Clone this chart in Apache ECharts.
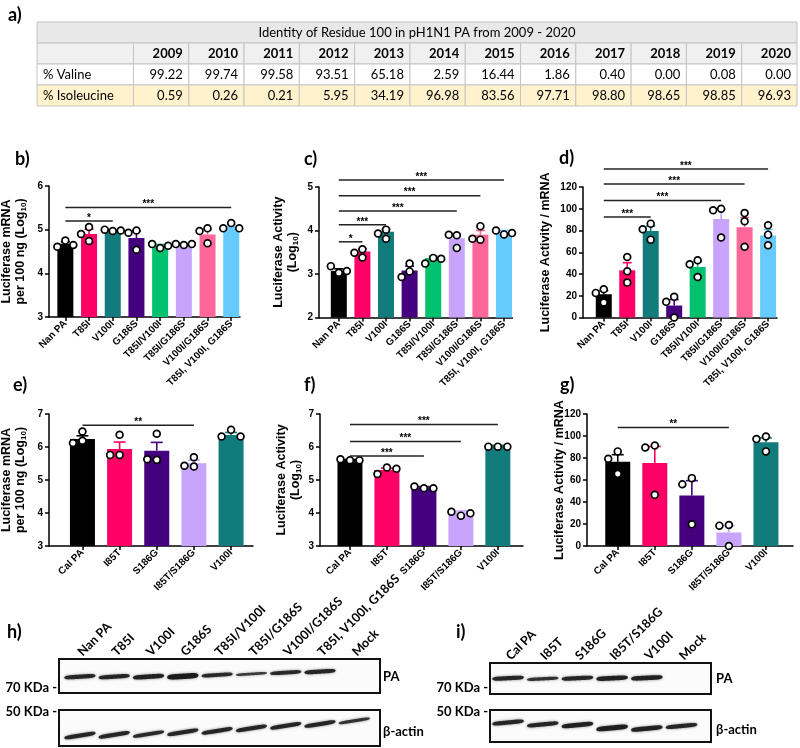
<!DOCTYPE html>
<html><head><meta charset="utf-8">
<script src="https://cdn.jsdelivr.net/npm/echarts@6/dist/echarts.min.js"></script>
<style>html,body{margin:0;padding:0;background:#fff}#c{width:800px;height:748px}</style>
</head><body><div id="c"></div>
<script>
// ---------- DATA ----------
const tableTitle = 'Identity of Residue 100 in pH1N1 PA from 2009 - 2020';
const years = ['2009','2010','2011','2012','2013','2014','2015','2016','2017','2018','2019','2020'];
const rowLabels = ['% Valine', '% Isoleucine'];
const valine = [99.22, 99.74, 99.58, 93.51, 65.18, 2.59, 16.44, 1.86, 0.40, 0.00, 0.08, 0.00];
const isoleucine = [0.59, 0.26, 0.21, 5.95, 34.19, 96.98, 83.56, 97.71, 98.80, 98.65, 98.85, 96.93];

const nanCats = ['Nan PA','T85I','V100I','G186S','T85I/V100I','T85I/G186S','V100I/G186S','T85I, V100I, G186S'];
const calCats = ['Cal PA','I85T','S186G','I85T/S186G','V100I'];
const nanColors = ['#000000','#ff0066','#127c7c','#44007e','#00c16e','#c8a4fc','#ff6699','#66ccff'];
const calColors = ['#000000','#ff0066','#44007e','#c8a4fc','#127c7c'];

// b) Luciferase mRNA (log10)
const bMean = [4.68, 4.90, 4.97, 4.81, 4.63, 4.66, 4.89, 5.08];
const bSem  = [0.04, 0.11, 0.02, 0.16, 0.03, 0.01, 0.11, 0.03];
const bPts  = [[4.75,4.61,4.65],[5.06,4.90,4.74],[4.97,5.00,4.98],[4.98,4.93,4.54],[4.58,4.67,4.63],[4.65,4.67,4.67],[5.03,4.97,4.69],[5.15,5.03,5.03]];
const bSig  = [[2, 5.20, '*'], [7, 5.51, '***']];
// c) Luciferase activity (log10)
const cMean = [3.07, 3.52, 3.97, 3.08, 3.37, 3.82, 3.90, 3.97];
const cSem  = [0.05, 0.06, 0.06, 0.10, 0.04, 0.10, 0.10, 0.03];
const cPts  = [[3.03,3.18,3.07],[3.57,3.38,3.49],[4.02,3.81,3.93],[3.24,3.06,2.93],[3.37,3.24,3.35],[3.89,3.60,3.90],[4.10,3.79,3.81],[3.91,4.00,3.94]];
const cSig  = [[1, 3.74, '*'], [2, 4.13, '***'], [5, 4.45, '***'], [6, 4.80, '***'], [7, 5.16, '***']];
// d) Luciferase activity / mRNA
const dMean = [21.4, 43.4, 79.5, 11.0, 46.5, 90.6, 83.0, 75.5];
const dSem  = [3.3, 7.0, 4.5, 5.5, 4.8, 9.0, 9.0, 5.3];
const dPts  = [[26.0,22.6,13.8],[55.7,42.5,32.1],[86.3,81.1,71.6],[19.0,14.4,0.0],[52.6,49.0,37.3],[100.0,98.6,73.5],[96.0,88.5,65.0],[84.8,76.2,66.4]];
const dSig  = [[2, 92.4, '***'], [5, 107.7, '***'], [6, 122.7, '***'], [7, 136.5, '***']];
// e) Luciferase mRNA (log10)
const eMean = [6.24, 5.94, 5.89, 5.51, 6.36];
const eSem  = [0.10, 0.21, 0.25, 0.09, 0.08];
const ePts  = [[6.47,6.19,6.12],[6.37,5.76,5.76],[6.40,5.61,5.63],[5.69,5.41,5.43],[6.52,6.32,6.32]];
const eSig  = [[3, 6.66, '**']];
// f) Luciferase activity (log10)
const fMean = [5.61, 5.30, 4.78, 4.02, 6.04];
const fSem  = [0.01, 0.06, 0.02, 0.04, 0.01];
const fPts  = [[5.60,5.63,5.60],[5.38,5.18,5.34],[4.75,4.80,4.75],[3.92,4.04,3.99],[6.01,6.01,6.01]];
const fSig  = [[2, 5.73, '***'], [3, 6.17, '***'], [4, 6.68, '***']];
// g) Luciferase activity / mRNA
const gMean = [76.5, 75.5, 45.9, 12.3, 94.3];
const gSem  = [6.5, 15.0, 13.5, 6.3, 4.0];
const gPts  = [[86.0,79.3,65.6],[91.4,89.6,46.5],[61.7,56.2,19.7],[19.1,18.5,0.0],[99.6,97.2,86.0]];
const gSig  = [[3, 107.8, '**']];

// h) / i) western blots: relative migration (0 = top of membrane) and band intensity
const hLanes = ['Nan PA','T85I','V100I','G186S','T85I/V100I','T85I/G186S','V100I/G186S','T85I, V100I, G186S','Mock'];
const hPaMig = [0.52,0.52,0.52,0.51,0.47,0.44,0.40,0.37,0.40];
const hPaInt = [0.85,0.85,0.90,1.00,0.80,0.62,0.80,0.85,0.00];
const hActMig = [0.71,0.69,0.67,0.62,0.58,0.51,0.44,0.39,0.30];
const hActInt = [0.85,0.85,0.80,0.85,0.85,0.85,0.85,0.85,0.70];
const iLanes = ['Cal PA','I85T','S186G','I85T/S186G','V100I','Mock'];
const iPaMig = [0.49,0.51,0.49,0.49,0.48,0.49];
const iPaInt = [0.85,0.72,0.85,0.90,0.90,0.00];
const iActMig = [0.39,0.45,0.47,0.56,0.58,0.50];
const iActInt = [0.85,0.85,0.90,0.95,0.90,0.85];

// ---------- BUILD ----------
const FONT = '"Liberation Sans", Arial, sans-serif';
const CFONT = 'Lato, "Open Sans", sans-serif';
const grid = [], xAxis = [], yAxis = [], series = [], graphic = [];

// table (a)
(function(){
  const LABW = 1.745;
  const cells = [];
  cells.push({x0:0, x1:LABW + years.length, r:0, text:tableTitle, align:'center', bold:false, bg:'#e8e8e8'});
  cells.push({x0:0, x1:LABW, r:1, text:'', align:'left', bg:'#f0f0f0'});
  years.forEach((y,i)=>cells.push({x0:LABW+i, x1:LABW+i+1, r:1, text:y, align:'right', bold:true, bg:'#f0f0f0'}));
  [[rowLabels[0], valine, '#ffffff'], [rowLabels[1], isoleucine, '#fff2cc']].forEach(([lab, arr, bg], k)=>{
    cells.push({x0:0, x1:LABW, r:2+k, text:lab, align:'left', bg});
    arr.forEach((v,i)=>cells.push({x0:LABW+i, x1:LABW+i+1, r:2+k, text:v.toFixed(2), align:'right', bg}));
  });
  const gi = grid.length;
  grid.push({left:37, top:22, width:760, height:84, outerBoundsMode:'none'});
  xAxis.push({gridIndex:gi, type:'value', min:0, max:LABW + years.length, show:false});
  yAxis.push({gridIndex:gi, type:'value', min:0, max:4, inverse:true, show:false});
  series.push({type:'custom', xAxisIndex:gi, yAxisIndex:gi, clip:false, silent:true,
    data: cells.map(c=>[c.x0, c.r, c.x1]),
    renderItem(params, api){
      const c = cells[params.dataIndex];
      const p0 = api.coord([c.x0, c.r]), p1 = api.coord([c.x1, c.r+1]);
      const tx = c.align==='left' ? p0[0]+6 : c.align==='right' ? p1[0]-6 : (p0[0]+p1[0])/2;
      return {type:'group', children:[
        {type:'rect', shape:{x:p0[0], y:p0[1], width:p1[0]-p0[0], height:p1[1]-p0[1]}, style:{fill:c.bg, stroke:'#c4c4c4', lineWidth:1}},
        {type:'text', x:tx, y:(p0[1]+p1[1])/2+0.5, style:{text:c.text, fill:'#000', font:(c.bold?'bold ':'')+'13px '+CFONT, textAlign:c.align, textVerticalAlign:'middle'}}
      ]};
    }});
})();

function addBarPanel(o){
  const gi = grid.length;
  const [L,T,W,H] = o.box;
  const idx = o.cats.map((_,i)=>i);
  grid.push({left:L, top:T, width:W, height:H, outerBoundsMode:'none'});
  const axisLine = {show:true, onZero:false, lineStyle:{color:'#000', width:1.5}};
  const tick = {show:true, length:4, inside:false, lineStyle:{color:'#000', width:1.5}};
  xAxis.push({gridIndex:gi, type:'value', min:o.xr[0], max:o.xr[1], axisLine, splitLine:{show:false},
    axisTick:Object.assign({}, tick, {customValues:idx}),
    axisLabel:{customValues:idx, formatter:v=>o.cats[Math.round(v)]||'', rotate:45, margin:5, color:'#000', fontFamily:FONT, fontWeight:'bold', fontSize:10}});
  yAxis.push({gridIndex:gi, type:'value', min:o.yr[0], max:o.yr[1], interval:o.yr[2], axisLine, axisTick:tick, splitLine:{show:false},
    axisLabel:{color:'#000', fontFamily:FONT, fontWeight:'bold', fontSize:10, margin:6},
    name:o.name, nameLocation:'middle', nameGap:o.nameGap, nameMoveOverlap:false,
    nameTextStyle:{color:'#000', fontFamily:FONT, fontWeight:'bold', fontSize:12.5, lineHeight:14,
      rich:{sub:{fontSize:8, lineHeight:8, fontFamily:FONT, fontWeight:'bold', verticalAlign:'bottom', color:'#000'}}}});
  // bars
  series.push({type:'bar', xAxisIndex:gi, yAxisIndex:gi, barWidth:o.barW, silent:true, z:2,
    data:o.mean.map((v,i)=>({value:[i,v], itemStyle:{color:o.colors[i]}}))});
  // SEM error bars (upper only)
  series.push({type:'custom', xAxisIndex:gi, yAxisIndex:gi, silent:true, z:3, clip:false,
    data:o.mean.map((m,i)=>[i, m, m + o.sem[i]]),
    renderItem(params, api){
      const i = api.value(0);
      const p0 = api.coord([i, api.value(1)]), p1 = api.coord([i, api.value(2)]);
      const col = o.colors[i], hw = o.cap/2;
      return {type:'group', children:[
        {type:'line', shape:{x1:p0[0], y1:p0[1], x2:p1[0], y2:p1[1]}, style:{stroke:col, lineWidth:1.6}},
        {type:'line', shape:{x1:p1[0]-hw, y1:p1[1], x2:p1[0]+hw, y2:p1[1]}, style:{stroke:col, lineWidth:1.6}}
      ]};
    }});
  // individual replicate points (swarm)
  const flat = [];
  o.pts.forEach((arr,i)=>arr.forEach((v,j)=>flat.push([i, v, j])));
  series.push({type:'custom', xAxisIndex:gi, yAxisIndex:gi, silent:true, z:4, clip:false,
    data:flat,
    renderItem(params, api){
      const [ci, , j] = flat[params.dataIndex];
      const arr = o.pts[ci], sp = o.spread, placed = [];
      for (let k=0; k<=j; k++){
        const p = api.coord([ci, arr[k]]);
        let off = 0;
        for (const cnd of [0, -sp, sp, -2*sp, 2*sp]){
          if (placed.every(q => Math.hypot(q[0]-(p[0]+cnd), q[1]-p[1]) >= sp-0.5)){ off = cnd; break; }
        }
        placed.push([p[0]+off, p[1]]);
      }
      const me = placed[j];
      return {type:'circle', shape:{cx:me[0], cy:me[1], r:3.4}, style:{fill:'#fff', stroke:'#000', lineWidth:1.7}};
    }});
  // significance brackets
  series.push({type:'custom', xAxisIndex:gi, yAxisIndex:gi, silent:true, z:5, clip:false,
    data:o.sig.map(s=>[0, s[1], s[0]]),
    renderItem(params, api){
      const s = o.sig[params.dataIndex];
      const p0 = api.coord([0, s[1]]), p1 = api.coord([s[0], s[1]]);
      return {type:'group', children:[
        {type:'line', shape:{x1:p0[0], y1:p0[1], x2:p1[0], y2:p1[1]}, style:{stroke:'#222', lineWidth:1.5}},
        {type:'text', x:(p0[0]+p1[0])/2, y:p0[1]-3, style:{text:s[2], fill:'#000', font:'bold 10px '+FONT, textAlign:'center', textVerticalAlign:'middle'}}
      ]};
    }});
}

const nameMRNA = 'Luciferase mRNA\nper 100 ng (Log{sub|10})';
const nameAct = 'Luciferase Activity\n(Log{sub|10})';
const nameRatio = 'Luciferase Activity / mRNA';

addBarPanel({cats:nanCats, colors:nanColors, mean:bMean, sem:bSem, pts:bPts, sig:bSig, box:[49,186,191,131], xr:[-0.69,7.37], yr:[3,6,1], barW:16, cap:9, spread:8, name:nameMRNA, nameGap:21});
addBarPanel({cats:nanCats, colors:nanColors, mean:cMean, sem:cSem, pts:cPts, sig:cSig, box:[319,187,193.5,130.5], xr:[-0.84,7.36], yr:[2,5,1], barW:16, cap:9, spread:8, name:nameAct, nameGap:19});
addBarPanel({cats:nanCats, colors:nanColors, mean:dMean, sem:dSem, pts:dPts, sig:dSig, box:[583,187,194,130.5], xr:[-0.885,7.38], yr:[0,120,20], barW:16, cap:9, spread:8, name:nameRatio, nameGap:30});
addBarPanel({cats:calCats, colors:calColors, mean:eMean, sem:eSem, pts:ePts, sig:eSig, box:[49,414,204,132], xr:[-0.9,4.59], yr:[3,7,1], barW:25, cap:12, spread:9.5, name:nameMRNA, nameGap:21});
addBarPanel({cats:calCats, colors:calColors, mean:fMean, sem:fSem, pts:fPts, sig:fSig, box:[320,414,203,132], xr:[-0.81,4.68], yr:[3,7,1], barW:25, cap:12, spread:9.5, name:nameAct, nameGap:17});
addBarPanel({cats:calCats, colors:calColors, mean:gMean, sem:gSem, pts:gPts, sig:gSig, box:[587,414,206,132], xr:[-0.83,4.73], yr:[0,120,20], barW:25, cap:12, spread:9.5, name:nameRatio, nameGap:20});

function addBlot(o){
  const gi = grid.length;
  const [L,T,W,H] = o.box;
  grid.push({left:L, top:T, width:W, height:H, show:true, borderColor:'#111', borderWidth:2, backgroundColor:'#fbfbfb', outerBoundsMode:'none'});
  const idx = o.mig.map((_,i)=>i);
  xAxis.push({gridIndex:gi, type:'value', min:o.xr[0], max:o.xr[1], position:'top', axisLine:{show:false}, axisTick:{show:false}, splitLine:{show:false},
    axisLabel: o.labels ? {customValues:idx, formatter:v=>o.labels[Math.round(v)]||'', rotate:45, margin:5, color:'#000', fontFamily:CFONT, fontWeight:'bold', fontSize:12.5} : {show:false}});
  yAxis.push({gridIndex:gi, type:'value', min:0, max:1, inverse:true, show:false});
  const data = o.mig.map((m,i)=>[i, m, o.inten[i]]).filter(d=>d[2] > 0);
  series.push({type:'custom', xAxisIndex:gi, yAxisIndex:gi, silent:true, clip:true, z:2, data,
    renderItem(params, api){
      const I = api.value(2);
      const c = api.coord([api.value(0), api.value(1)]);
      const w = api.size([0.92, 0])[0];
      const h = 1 + 4.5*I*I;
      const top = [], bot = [];
      for (let k=0; k<=40; k++){
        const t = -1 + k/20;
        const half = h/2*Math.sqrt(Math.max(0, 1 - Math.pow(Math.abs(t), 6)));
        const yc = c[1] - o.tilt*t;
        top.push([c[0] + t*w/2, yc - half]);
        bot.unshift([c[0] + t*w/2, yc + half]);
      }
      return {type:'polygon', shape:{points:top.concat(bot)}, style:{fill:'rgba(20,20,20,'+(0.5+0.45*I)+')', shadowBlur:3, shadowColor:'rgba(0,0,0,0.5)'}};
    }});
}
addBlot({box:[59,659,321,34], xr:[-0.61,8.75], labels:hLanes, mig:hPaMig, inten:hPaInt, tilt:1});
addBlot({box:[59,710,321,36], xr:[-0.61,8.75], labels:null, mig:hActMig, inten:hActInt, tilt:2.5});
addBlot({box:[490,663,221,31], xr:[-0.52,5.85], labels:iLanes, mig:iPaMig, inten:iPaInt, tilt:0.8});
addBlot({box:[490,710,221,32], xr:[-0.52,5.85], labels:null, mig:iActMig, inten:iActInt, tilt:1.5});

// text labels
function txt(x, y, text, font, align){
  graphic.push({type:'text', x, y, silent:true, style:{text, font, fill:'#000', textAlign:align||'left', textVerticalAlign:'middle'}});
}
const PL = 'bold 18px ' + CFONT;
txt(8, 15, 'a)', PL);
txt(15, 159, 'b)', PL); txt(304, 159, 'c)', PL); txt(559, 158, 'd)', PL);
txt(13, 385, 'e)', PL); txt(304, 385, 'f)', PL); txt(560, 385, 'g)', PL);
txt(7, 632, 'h)', PL); txt(456, 632, 'i)', PL);
const BL = 'bold 13px ' + CFONT;
txt(57, 688, '70 KDa -', BL, 'right'); txt(57, 712, '50 KDa -', BL, 'right');
txt(383, 677, 'PA', BL); txt(383, 732, 'β-actin', BL);
txt(488, 688, '70 KDa -', BL, 'right'); txt(488, 712, '50 KDa -', BL, 'right');
txt(716, 679, 'PA', BL); txt(716, 730, 'β-actin', BL);

const chart = echarts.init(document.getElementById('c'), null, {renderer:'canvas', width:800, height:748});
chart.setOption({animation:false, backgroundColor:'#fff', grid, xAxis, yAxis, series, graphic});
</script></body></html>
